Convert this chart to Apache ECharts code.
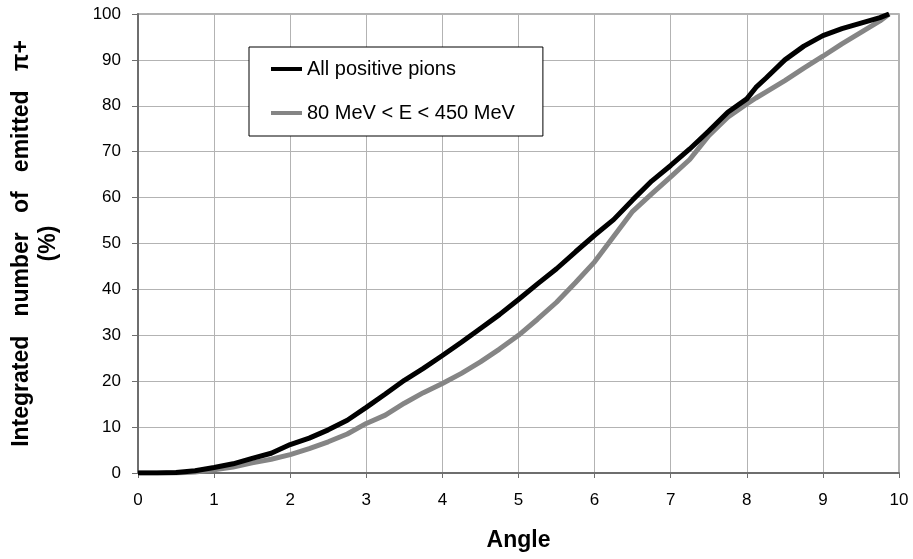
<!DOCTYPE html>
<html>
<head>
<meta charset="utf-8">
<script src="https://cdn.jsdelivr.net/npm/echarts@6/dist/echarts.min.js"></script>
<style>
html,body{margin:0;padding:0;background:#fff;}
#chart{width:913px;height:559px;}
</style>
</head>
<body>
<div id="chart"></div>
<script>
// Angle values (x)
const angles = [0,0.25,0.5,0.75,1,1.25,1.5,1.75,2,2.25,2.5,2.75,3,3.25,3.5,3.75,4,4.25,4.5,4.75,5,5.25,5.5,5.75,6,6.25,6.5,6.75,7,7.25,7.5,7.75,8,8.12,8.25,8.5,8.75,9,9.25,9.5,9.75,9.87];
// All positive pions (%)
const allPions = [0,0,0.1,0.5,1.2,2,3.2,4.3,6.2,7.6,9.4,11.5,14.3,17.2,20.2,22.8,25.6,28.5,31.5,34.5,37.8,41.2,44.5,48.2,51.8,55.2,59.5,63.6,67,70.6,74.5,78.6,81.5,84,86,90,93,95.3,96.8,98,99.2,100];
// 80 MeV < E < 450 MeV (%)
const energyCut = [0,0,0,0.2,0.7,1.3,2.2,3,4,5.3,6.8,8.5,10.8,12.6,15.2,17.5,19.5,21.7,24.2,27,30,33.5,37.2,41.5,46,51.5,57,60.8,64.5,68.3,73.5,77.5,80.4,81.7,83,85.5,88.2,90.8,93.5,96,98.5,100];
const seriesNames = ['All positive pions','80 MeV < E < 450 MeV'];
const xTitle = 'Angle';
const yTitle = 'Integrated   number   of   emitted   π+\n(%)';

const font = '"Liberation Sans", Arial, Helvetica, sans-serif';
const chart = echarts.init(document.getElementById('chart'), null, {renderer:'canvas'});
const pairs = (xs, ys) => xs.map((x,i)=>[x, ys[i]]);

chart.setOption({
  animation:false,
  backgroundColor:'#ffffff',
  grid:{left:136, right:14, top:14, bottom:86, show:true, borderColor:'#999999', borderWidth:1.5, backgroundColor:'transparent'},
  legend:{
    data:[seriesNames[0], seriesNames[1]],
    orient:'vertical',
    left:249, top:47,
    padding:[12,28,13,22],
    itemGap:24,
    itemWidth:31, itemHeight:4,
    icon:'rect',
    borderColor:'#000', borderWidth:1,
    backgroundColor:'#fff',
    textStyle:{fontFamily:font, fontSize:20, color:'#000', lineHeight:20}
  },
  xAxis:{
    type:'value', min:0, max:10, interval:1,
    name:xTitle, nameLocation:'middle', nameGap:56,
    nameTextStyle:{fontFamily:font, fontSize:23, fontWeight:'bold', color:'#000'},
    axisLine:{show:true, lineStyle:{color:'#6e6e6e', width:2}},
    axisTick:{show:true, inside:false, length:5, lineStyle:{color:'#6e6e6e', width:1}},
    axisLabel:{fontFamily:font, fontSize:17, color:'#000', margin:19},
    splitLine:{show:true, lineStyle:{color:'#b3b3b3', width:1}}
  },
  yAxis:{
    type:'value', min:0, max:100, interval:10,
    name:yTitle, nameLocation:'middle', nameGap:76, nameRotate:90,
    nameTextStyle:{fontFamily:font, fontSize:23, fontWeight:'bold', color:'#000', lineHeight:27, align:'center'},
    axisLine:{show:true, lineStyle:{color:'#6e6e6e', width:2}},
    axisTick:{show:true, inside:false, length:6, lineStyle:{color:'#6e6e6e', width:1}},
    axisLabel:{fontFamily:font, fontSize:17, color:'#000', margin:17},
    splitLine:{show:true, lineStyle:{color:'#b3b3b3', width:1}}
  },
  series:[
    {name:seriesNames[1], type:'line', data:pairs(angles, energyCut), showSymbol:false, symbol:'none',
     lineStyle:{color:'#858585', width:5}, itemStyle:{color:'#858585'}, z:3},
    {name:seriesNames[0], type:'line', data:pairs(angles, allPions), showSymbol:false, symbol:'none',
     lineStyle:{color:'#000000', width:5}, itemStyle:{color:'#000000'}, z:4}
  ]
});
</script>
</body>
</html>
